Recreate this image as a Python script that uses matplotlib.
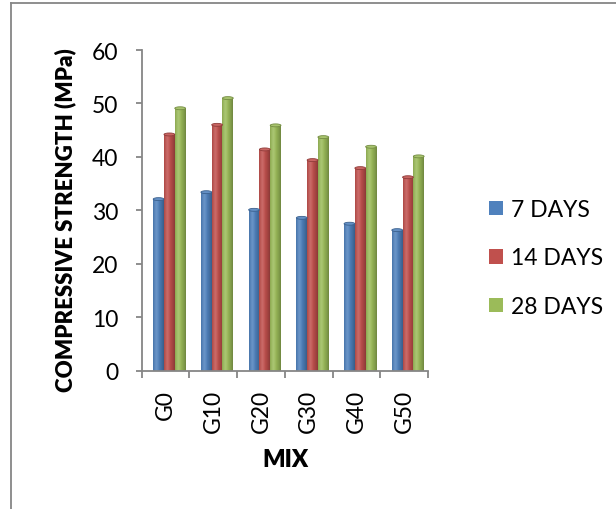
import numpy as np
import matplotlib.pyplot as plt
from matplotlib.patches import Ellipse, Rectangle, Patch
from matplotlib.colors import to_rgb
from matplotlib.lines import Line2D

# Compressive strength (MPa) by mix and curing age
mixes = ["G0", "G10", "G20", "G30", "G40", "G50"]
days_7 = [32.1, 33.4, 30.1, 28.6, 27.5, 26.3]
days_14 = [44.2, 46.0, 41.4, 39.4, 37.9, 36.2]
days_28 = [49.1, 51.0, 45.9, 43.7, 41.9, 40.1]
series_labels = ["7 DAYS", "14 DAYS", "28 DAYS"]
series_values = [days_7, days_14, days_28]
colors = ["#4F81BD", "#C0504D", "#9BBB59"]

plt.rcParams['font.family'] = ['Lato', 'DejaVu Sans']
W, H = 616, 510
fig = plt.figure(figsize=(W / 100, H / 100), dpi=100)
ax = fig.add_axes([141.7 / W, 1 - 371.7 / H, (428 - 141.7) / W, (371.7 - 51) / H])

bar_w = 0.226
shift = 0.08
cap_h = 0.55
tick_fs = 16.5


def cylinder_rgb(color, n=64):
    base = np.array(to_rgb(color))
    t = np.linspace(0, 1, n)
    dark = 0.28 * (np.abs(t - 0.35) / 0.65) ** 1.6
    light = 0.16 * np.clip(1 - np.abs(t - 0.3) / 0.3, 0, 1)
    rgb = base[None, :] * (1 - dark[:, None])
    rgb = rgb * (1 - light[:, None]) + light[:, None]
    return rgb[None, :, :]


def shade(color, k):
    c = np.array(to_rgb(color))
    if k >= 0:
        return tuple(c + (1 - c) * k)
    return tuple(c * (1 + k))


for j, (vals, col) in enumerate(zip(series_values, colors)):
    img = cylinder_rgb(col)
    for i, v in enumerate(vals):
        xc = i + 0.5 + (j - 1) * bar_w + shift
        x0 = xc - bar_w / 2
        rect = Rectangle((x0, 0), bar_w, v, facecolor='none', edgecolor='none')
        ax.add_patch(rect)
        im = ax.imshow(img, extent=(x0, x0 + bar_w, 0, v), aspect='auto',
                       interpolation='bilinear', zorder=2)
        im.set_clip_path(rect)
        ax.add_patch(Ellipse((xc, v), bar_w, cap_h, facecolor=shade(col, 0.12),
                             edgecolor=shade(col, -0.25), lw=0.6, zorder=3))

ax.set_xlim(0, len(mixes))
ax.set_ylim(0, 60)
ax.set_aspect('auto')

axis_gray = "#868686"
for side in ("top", "right"):
    ax.spines[side].set_visible(False)
for side in ("left", "bottom"):
    ax.spines[side].set_color(axis_gray)
    ax.spines[side].set_linewidth(1.3)

ax.set_yticks(np.arange(0, 61, 10))
ax.tick_params(axis='y', colors=axis_gray, length=4, width=1.3, pad=13,
               labelsize=tick_fs, labelcolor='black')
ax.set_xticks(np.arange(0, len(mixes) + 1))
ax.set_xticklabels([])
ax.set_xticks(np.arange(len(mixes)) + 0.5, minor=True)
ax.set_xticklabels(mixes, minor=True, rotation=90)
ax.tick_params(axis='x', which='major', colors=axis_gray, length=5, width=1.3)
ax.tick_params(axis='x', which='minor', length=0, pad=13, labelsize=tick_fs,
               labelcolor='black')

fig.text(65 / W, 1 - 220 / H, "COMPRESSIVE STRENGTH (MPa)", rotation=90,
         ha='center', va='center', fontsize=16, fontweight='heavy')
fig.text(285 / W, 1 - 460 / H, "MIX", ha='center', va='center',
         fontsize=17, fontweight='heavy')

handles = [Patch(facecolor=c, edgecolor='none') for c in colors]
fig.legend(handles, series_labels, loc='center left',
           bbox_to_anchor=(489 / W, 1 - 259 / H), frameon=False,
           borderpad=0, borderaxespad=0, handlelength=0.6, handleheight=0.6,
           handletextpad=0.35, labelspacing=1.2, fontsize=tick_fs)

# chart frame
fig.add_artist(Line2D([10.5 / W, 10.5 / W], [0, 1 - 4 / H],
                      transform=fig.transFigure, color=axis_gray, lw=1.3))
fig.add_artist(Line2D([10.5 / W, 1], [1 - 4 / H, 1 - 4 / H],
                      transform=fig.transFigure, color=axis_gray, lw=1.3))

fig.savefig("out.png", dpi=100)
